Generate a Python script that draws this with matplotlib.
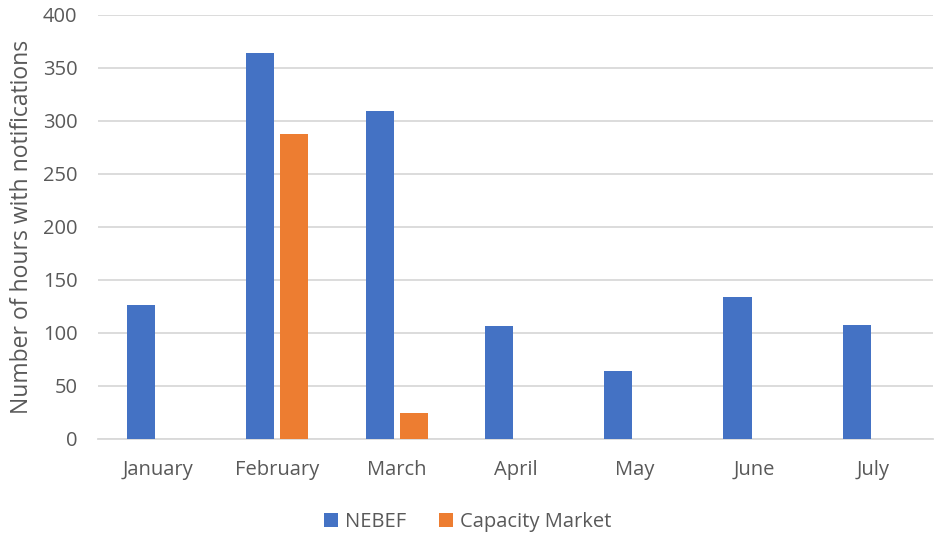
import numpy as np
import matplotlib
matplotlib.use("Agg")
import matplotlib.pyplot as plt

months = ["January", "February", "March", "April", "May", "June", "July"]
nebef = [126, 364, 309, 106, 64, 134, 107]
capacity = [0, 287, 24, 0, 0, 0, 0]

plt.rcParams['font.family'] = ['Open Sans', 'DejaVu Sans']
text_col = '#595959'

fig = plt.figure(figsize=(9.35, 5.35), dpi=100)
ax = fig.add_axes([0.105, 0.180, 0.893, 0.7925])

x = np.arange(len(months))
w = 0.235
ax.bar(x - 0.14, nebef, width=w, color='#4472C4', label='NEBEF', zorder=3)
ax.bar(x + 0.145, capacity, width=w, color='#ED7D31', label='Capacity Market', zorder=3)

ax.set_xlim(-0.5, len(months) - 0.5)
ax.set_ylim(0, 400)
ax.set_yticks(range(0, 401, 50))
ax.set_xticks(x)
ax.set_xticklabels(months)
ax.tick_params(axis='both', length=0, labelsize=14.5, colors=text_col)
ax.tick_params(axis='y', pad=15)
ax.tick_params(axis='x', pad=15)
ax.grid(axis='y', color='#D9D9D9', linewidth=1.3, zorder=0)
for s in ['top', 'right', 'left']:
    ax.spines[s].set_visible(False)
ax.spines['bottom'].set_color('#D9D9D9')
ax.spines['bottom'].set_linewidth(1.3)

ax.set_ylabel('Number of hours with notifications', fontsize=16.5, color=text_col, labelpad=6)

fig.legend(loc='center', bbox_to_anchor=(0.5, 0.025), ncol=2, frameon=False,
           fontsize=14.5, labelcolor=text_col, handlelength=0.7, handleheight=0.7,
           handletextpad=0.35, columnspacing=1.6)

fig.savefig('out.png', dpi=100)
